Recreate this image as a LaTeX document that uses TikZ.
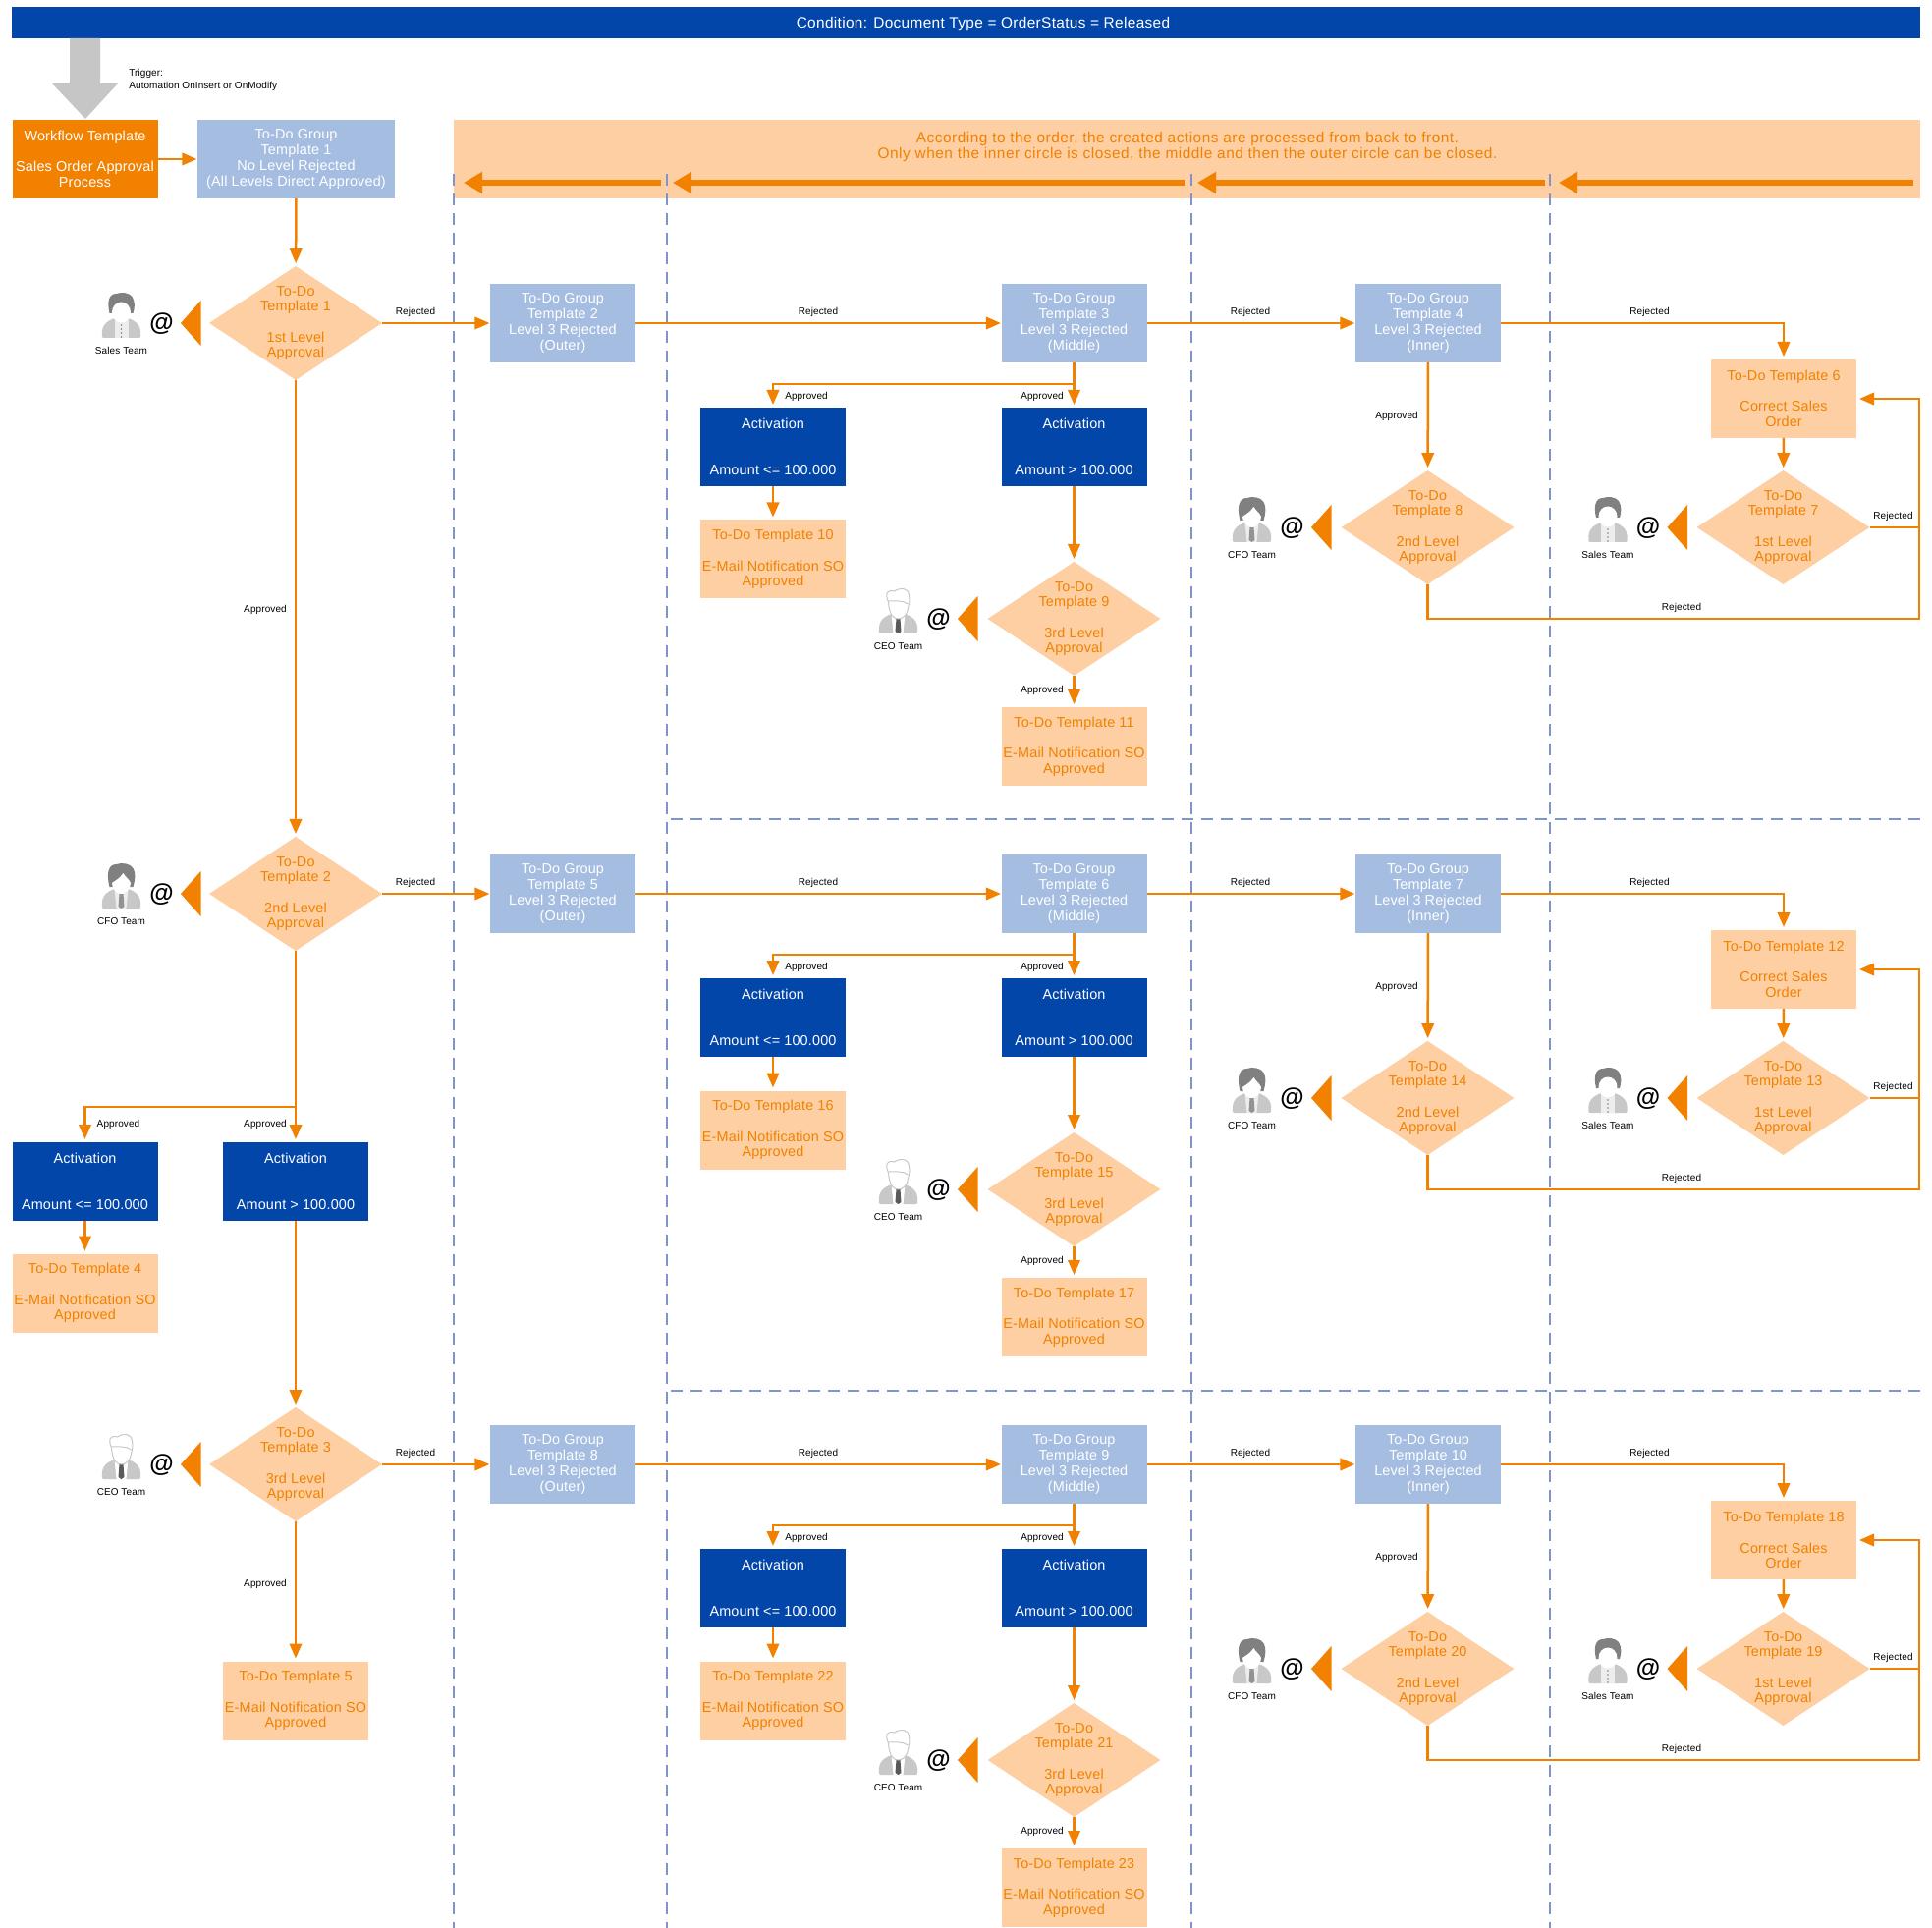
\documentclass[tikz,border=0pt]{standalone}
\usepackage{fontspec}
\setmainfont{Liberation Sans}
\usetikzlibrary{arrows.meta,shapes.geometric,calc}
\definecolor{navy}{HTML}{0346AA}
\definecolor{orng}{HTML}{F28100}
\definecolor{peach}{HTML}{FDCFA3}
\definecolor{lblue}{HTML}{A5BDE1}
\definecolor{arrowgray}{HTML}{C6C6C6}
\definecolor{sep}{HTML}{7F93CC}
\definecolor{bodygray}{HTML}{C8C8C8}
\definecolor{hairgray}{HTML}{808080}
\newcommand\mainf{\fontsize{7.2}{7.85}\selectfont\addfontfeature{LetterSpace=1.2}}
\newcommand\widef[1]{\fontsize{7.7}{8.2}\selectfont\addfontfeature{LetterSpace=#1}}
\newcommand\bl{\\[7.85pt]}
\newcommand\blb{\\[15.7pt]}
\tikzset{
  box/.style={rectangle,inner sep=0pt,outer sep=0pt,align=center,font=\mainf,minimum width=74pt,minimum height=40pt},
  boxblue/.style={box,fill=lblue,text=white},
  boxnavy/.style={box,fill=navy,text=white},
  boxpeach/.style={box,fill=peach,text=orng},
  boxorange/.style={box,fill=orng,text=white},
  dia/.style={diamond,fill=peach,inner sep=0pt,outer sep=0pt,minimum width=88pt,minimum height=58pt},
  diatext/.style={inner sep=0pt,align=center,font=\mainf,text=orng},
  lbl/.style={inner sep=0pt,yshift=-0.5pt,font=\fontsize{5}{6}\selectfont\addfontfeature{LetterSpace=1},text=black},
  flow/.style={draw=orng,line width=1.25pt,-{Triangle[width=6.2pt,length=7.5pt]},shorten >=1.5pt},
  flowh/.style={flow,shorten >=0.3pt},
  flowplain/.style={draw=orng,line width=1.25pt},
  bigflow/.style={draw=orng,line width=2.8pt,-{Triangle[width=10.5pt,length=9.5pt]}},
  sepline/.style={draw=sep,line width=1.3pt,dash pattern=on 6pt off 4pt},
  personbody/.pic={
    \fill[bodygray,rounded corners=0.6pt] (-19.5,46) .. controls (-20.5,35) and (-17,30) .. (-7,26) -- (7,26) .. controls (17,30) and (20.5,35) .. (19.5,46) -- cycle;
  },
  personsales/.pic={
    \pic {personbody};
    \fill[black!7] (-7,27) -- (7,27) -- (7,46) -- (-7,46) -- cycle;
    \foreach \d in {33,37,41,45} \fill[hairgray] (0,\d) circle [radius=0.9];
    \fill[hairgray] (-12,21) .. controls (-15,8) and (-12,1) .. (-5,1) .. controls (0,-1) and (8,0) .. (11,4) .. controls (14,9) and (14,15) .. (12,21) -- cycle;
    \fill[white] (0,20) ellipse [x radius=9.5,y radius=10.5];
  },
  personcfo/.pic={
    \pic {personbody};
    \fill[black!7] (-7,26) -- (7,26) -- (5,46) -- (-5,46) -- cycle;
    \fill[hairgray!85] (-2,31) -- (2,31) -- (3,44) -- (0,46) -- (-3,44) -- cycle;
    \fill[hairgray] (-12,24) .. controls (-16,8) and (-12,1) .. (-5,1) .. controls (0,-1) and (9,0) .. (12,5) .. controls (15,10) and (14,17) .. (12,24) -- cycle;
    \fill[white] (-9.5,20) .. controls (-7,18) and (-2,16) .. (2,10) .. controls (4,14) and (8,16) .. (9.5,20) .. controls (9.5,27) and (4,31) .. (0,31) .. controls (-4,31) and (-9.5,27) .. (-9.5,20) -- cycle;
  },
  personceo/.pic={
    \pic {personbody};
    \fill[white] (-7,26) -- (7,26) -- (5,46) -- (-5,46) -- cycle;
    \fill[black!65] (-2,31) -- (2,31) -- (3,44) -- (0,46) -- (-3,44) -- cycle;
    \draw[bodygray,line width=0.5pt,fill=white] (-10,14) .. controls (-14,5) and (-11,1) .. (-4,3) .. controls (2,-1) and (10,-1) .. (11,7) .. controls (12,12) and (11,16) .. (10,20) .. controls (9,28) and (4,31) .. (0,31) .. controls (-4,31) and (-9,28) .. (-10,14) -- cycle;
    \draw[bodygray,line width=0.5pt] (-10,13) .. controls (-4,13) and (5,12) .. (10,16);
  },
}
% #1 name, #2 triangle tip x, #3 diamond centre y, #4 icon, #5 team label
\newcommand\notifyblock[5]{%
  \fill[orng] (#2,#3) -- (#2+20.5,#3-23) -- (#2+20.5,#3+23) -- cycle;
  \node[inner sep=0pt,font=\fontsize{12.5}{13}\selectfont\bfseries] (at#1) at (#2-19.5,#3+1) {@};
  \pic at (#2-60.5,#3-31) {person#4};
  \node[lbl] (team#1) at (#2-60.5,#3+27) {#5};
}
\begin{document}
\begin{tikzpicture}[x=0.5pt,y=-0.5pt]
\useasboundingbox (0,0) rectangle (1967,1963);
% header
\node[rectangle,fill=navy,minimum width=971.5pt,minimum height=16pt,inner sep=0pt,outer sep=0pt] (header) at (983.5,23) {};
\node[text=white,font=\widef{2.2},inner sep=0pt,text height=6.6pt,text depth=1.5pt] (headertext) at (1001,23) {Condition: Document Type = OrderStatus = Released};
% trigger
\fill[arrowgray] (71,39) -- (102,39) -- (102,85) -- (120,85) -- (87,121) -- (53,85) -- (71,85) -- cycle;
\node[inner sep=0pt,anchor=north west,align=left,font=\fontsize{5}{6.2}\selectfont\addfontfeature{LetterSpace=0.7},text=black] (trigger) at (131,70) {Trigger:\\Automation OnInsert or OnModify};
% banner
\node[rectangle,fill=peach,minimum width=746.5pt,minimum height=40pt,inner sep=0pt,outer sep=0pt] (banner) at (1208.5,162) {};
\node[inner sep=0pt,align=center,font=\widef{3.3},text=orng] (bannertext) at (1209,149.5) {According to the order, the created actions are processed from back to front.\\Only when the inner circle is closed, the middle and then the outer circle can be closed.};
% separators
\draw[sepline] (462,177) -- (462,1963);
\draw[sepline] (679,177) -- (679,1963);
\draw[sepline] (1213,177) -- (1213,1963);
\draw[sepline] (1578,177) -- (1578,1963);
\draw[sepline] (683,834) -- (1955,834);
\draw[sepline] (683,1416) -- (1955,1416);
% banner arrows
\coordinate (b1s) at (673,186); \coordinate (b1e) at (472,186);
\coordinate (b2s) at (1206,186); \coordinate (b2e) at (685,186);
\coordinate (b3s) at (1573,186); \coordinate (b3e) at (1219,186);
\coordinate (b4s) at (1948,186); \coordinate (b4e) at (1587,186);
\draw[bigflow] (b1s) -- (b1e);
\draw[bigflow] (b2s) -- (b2e);
\draw[bigflow] (b3s) -- (b3e);
\draw[bigflow] (b4s) -- (b4e);
% left column
\node[boxorange] (wf) at (86.5,162) {Workflow Template\bl Sales Order Approval\\Process};
\node[boxblue,minimum width=100.5pt] (g1) at (301.5,162) {To-Do Group\\Template 1\\No Level Rejected\\(All Levels Direct Approved)};
\draw[flowh] (wf) -- (g1);
\node[dia] (d1) at (301,329) {};
\node[diatext] (d1t) at (301,329) {To-Do\\Template 1\bl 1st Level\\Approval};
\node[dia] (d2) at (301,910) {};
\node[diatext] (d2t) at (301,910) {To-Do\\Template 2\bl 2nd Level\\Approval};
\node[dia] (d3) at (301,1491) {};
\node[diatext] (d3t) at (301,1491) {To-Do\\Template 3\bl 3rd Level\\Approval};
\notifyblock{L1}{184}{329}{sales}{Sales Team}
\notifyblock{L2}{184}{910}{cfo}{CFO Team}
\notifyblock{L3}{184}{1491}{ceo}{CEO Team}
\node[boxnavy] (al) at (86.5,1203) {Activation\blb Amount <= 100.000};
\node[boxnavy] (ar) at (301,1203) {Activation\blb Amount > 100.000};
\node[boxpeach] (t4) at (86.5,1316.5) {To-Do Template 4\bl E-Mail Notification SO\\Approved};
\node[boxpeach] (t5) at (301,1731.5) {To-Do Template 5\bl E-Mail Notification SO\\Approved};
\coordinate (brL) at (301,1127);
\draw[flow] (g1) -- (d1);
\draw[flow] (d1) -- (d2);
\draw[flow] (d2) -- (ar);
\draw[flow] (brL) -| (al.north);
\draw[flow] (al) -- (t4);
\draw[flow] (ar) -- (d3);
\draw[flow] (d3) -- (t5);
\node[lbl] (lapp1) at (270,620) {Approved};
\node[lbl] (lapp2) at (120.5,1144) {Approved};
\node[lbl] (lapp3) at (270,1144) {Approved};
\node[lbl] (lapp4) at (270,1612) {Approved};
% the three right-hand rows
\foreach \r/\off/\dl/\ga/\gb/\gc/\ta/\tb/\tc/\td/\te/\tf in {1/0/d1/2/3/4/6/7/8/9/10/11,2/581/d2/5/6/7/12/13/14/15/16/17,3/1162/d3/8/9/10/18/19/20/21/22/23}{
\begin{scope}[shift={(0,\off)}]
\node[boxblue] (ga\r) at (573,329) {To-Do Group\\Template \ga\\Level 3 Rejected\\(Outer)};
\node[boxblue] (gb\r) at (1093.5,329) {To-Do Group\\Template \gb\\Level 3 Rejected\\(Middle)};
\node[boxblue] (gc\r) at (1454,329) {To-Do Group\\Template \gc\\Level 3 Rejected\\(Inner)};
\node[boxnavy] (al\r) at (787,455) {Activation\blb Amount <= 100.000};
\node[boxnavy] (ar\r) at (1093.5,455) {Activation\blb Amount > 100.000};
\node[boxpeach] (te\r) at (787,569.5) {To-Do Template \te\bl E-Mail Notification SO\\Approved};
\node[boxpeach] (tf\r) at (1093.5,760) {To-Do Template \tf\bl E-Mail Notification SO\\Approved};
\node[boxpeach] (ta\r) at (1816,406) {To-Do Template \ta\bl Correct Sales\\Order};
\node[dia] (dd\r) at (1093.5,630) {};
\node[diatext] (ddt\r) at (1093.5,630) {To-Do\\Template \td\bl 3rd Level\\Approval};
\node[dia] (dc\r) at (1453.5,537) {};
\node[diatext] (dct\r) at (1453.5,537) {To-Do\\Template \tc\bl 2nd Level\\Approval};
\node[dia] (db\r) at (1815.5,537) {};
\node[diatext] (dbt\r) at (1815.5,537) {To-Do\\Template \tb\bl 1st Level\\Approval};
\notifyblock{D\r}{975}{630}{ceo}{CEO Team}
\notifyblock{C\r}{1335}{537}{cfo}{CFO Team}
\notifyblock{B\r}{1697.5}{537}{sales}{Sales Team}
\coordinate (br\r) at (1093.5,391);
\coordinate (lp\r) at (1954,630);
\draw[flowh] (\dl) -- (ga\r);
\draw[flowh] (ga\r) -- (gb\r);
\draw[flowh] (gb\r) -- (gc\r);
\draw[flow] (gc\r.east) -| (ta\r.north);
\draw[flow] (gb\r) -- (ar\r);
\draw[flow] (br\r) -| (al\r.north);
\draw[flow] (al\r) -- (te\r);
\draw[flow] (ar\r) -- (dd\r);
\draw[flow] (dd\r) -- (tf\r);
\draw[flow] (gc\r) -- (dc\r);
\draw[flow] (ta\r) -- (db\r);
\draw[flow] (dc\r.south) |- (lp\r) |- (ta\r.east);
\draw[flowplain] (db\r.east) -- (db\r.east -| lp\r);
\node[lbl] (lr0\r) at (423,317) {Rejected};
\node[lbl] (lr1\r) at (833,317) {Rejected};
\node[lbl] (lr2\r) at (1273,317) {Rejected};
\node[lbl] (lr3\r) at (1679.5,317) {Rejected};
\node[lbl] (lr4\r) at (1927.5,525) {Rejected};
\node[lbl] (lr5\r) at (1712,618) {Rejected};
\node[lbl] (la1\r) at (821,403) {Approved};
\node[lbl] (la2\r) at (1061,403) {Approved};
\node[lbl] (la3\r) at (1061,702) {Approved};
\node[lbl] (la4\r) at (1422,423) {Approved};
\end{scope}
}
\end{tikzpicture}
\end{document}
